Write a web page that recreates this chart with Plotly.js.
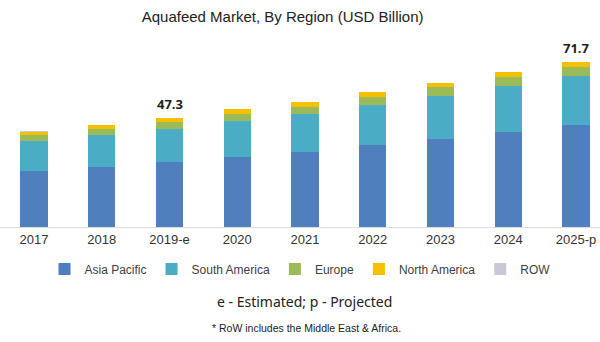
<!DOCTYPE html>
<html><head><meta charset="utf-8">
<script src="https://cdn.plot.ly/plotly-3.0.1.min.js"></script>
<style>html,body{margin:0;padding:0;background:#fff;}#chart{width:600px;height:342px;}</style>
</head><body><div id="chart"></div>
<script>
var years = ["2017","2018","2019-e","2020","2021","2022","2023","2024","2025-p"];
var asiaPacific   = [24.5, 25.9, 28.3, 30.2, 32.7, 35.6, 38.0, 41.1, 44.4];
var southAmerica  = [12.6, 14.0, 14.3, 15.9, 16.5, 17.2, 18.7, 20.0, 21.0];
var europe        = [2.9, 2.5, 3.1, 3.0, 3.0, 3.7, 3.9, 4.0, 4.0];
var northAmerica  = [1.4, 2.0, 1.5, 2.0, 2.1, 2.0, 2.0, 2.0, 2.2];
var row           = [0.05, 0.05, 0.05, 0.05, 0.05, 0.05, 0.05, 0.05, 0.05];
var labelYears = ["2019-e", "2025-p"];
var labelTexts = ["47.3", "71.7"];

var names = ["Asia Pacific","South America","Europe","North America","ROW"];
var colors = ["#4F7FBD","#4BACC6","#9BBB59","#F5C000","#C8C8D8"];
var series = [asiaPacific, southAmerica, europe, northAmerica, row];
var traces = series.map(function(v,i){
  return {type:"bar", x:years, y:v, name:names[i], marker:{color:colors[i]}, hoverinfo:"x+y+name"};
});
var totals = years.map(function(_,j){ return series.reduce(function(s,a){return s+a[j];},0); });
var annotations = labelYears.map(function(y,i){
  var j = years.indexOf(y);
  return {x:y, y:totals[j], xref:"x", yref:"y", text:"<b>"+labelTexts[i]+"</b>", showarrow:false,
          yanchor:"bottom", yshift:3, font:{family:"Noto Sans, sans-serif", size:13, color:"#222"}};
});
annotations.push({x:0.508, y:301, xref:"paper", yref:"paper", text:"e - Estimated; p - Projected", showarrow:false,
  font:{family:"Noto Sans, sans-serif", size:14, color:"#222"}});
annotations.push({x:0.51, y:328, xref:"paper", yref:"paper", text:"* RoW includes the Middle East &amp; Africa.", showarrow:false,
  font:{family:"Liberation Sans, Arial, sans-serif", size:10.5, color:"#222"}});
// convert pixel-y annotations to paper coordinates
var T=40, B=115, H=342-T-B;
annotations.forEach(function(a){ if(a.yref==="paper"){ a.y = (342-B-a.y)/H; a.yanchor="middle"; }});

var layout = {
  width:600, height:342,
  margin:{l:0, r:0, t:T, b:B},
  paper_bgcolor:"#fff", plot_bgcolor:"#fff",
  barmode:"stack", bargap:0.6,
  title:{text:"Aquafeed Market, By Region (USD Billion)", x:0.471, xanchor:"center", y:0.95, yanchor:"middle",
         font:{family:"Liberation Sans, Arial, sans-serif", size:15, color:"#222"}},
  xaxis:{type:"category", range:[-0.502, 8.354], showline:true, linecolor:"#dcdcdc", linewidth:1,
         ticks:"", tickfont:{family:"Liberation Sans, Arial, sans-serif", size:13, color:"#333"}, fixedrange:true},
  yaxis:{range:[0, 81.1], showgrid:false, zeroline:false, showticklabels:false, fixedrange:true},
  showlegend:true,
  legend:{orientation:"h", x:0.5, xanchor:"center", y:-0.225, yanchor:"middle",
          font:{family:"Liberation Sans, Arial, sans-serif", size:12, color:"#404040"}, traceorder:"normal",
          itemwidth:30},
  annotations:annotations
};
Plotly.newPlot("chart", traces, layout, {displayModeBar:false, staticPlot:true});
</script></body></html>
